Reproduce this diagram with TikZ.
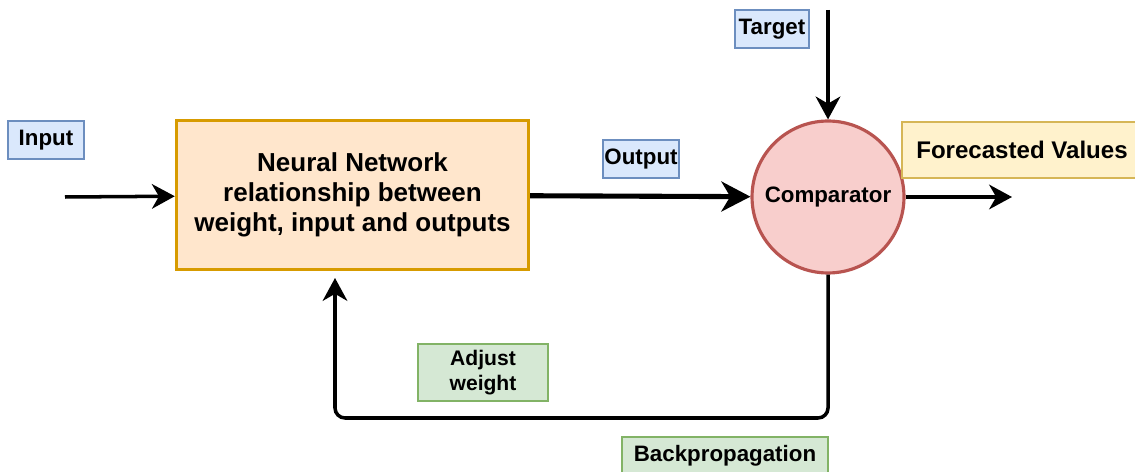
\documentclass[tikz,border=0pt]{standalone}
\usepackage{fontspec}
\setmainfont{Liberation Sans}
\usetikzlibrary{arrows.meta}
\definecolor{blueF}{HTML}{DAE8FC}\definecolor{blueD}{HTML}{6C8EBF}
\definecolor{orangeF}{HTML}{FFE6CC}\definecolor{orangeD}{HTML}{D79B00}
\definecolor{redF}{HTML}{F8CECC}\definecolor{redD}{HTML}{B85450}
\definecolor{yellowF}{HTML}{FFF2CC}\definecolor{yellowD}{HTML}{D6B656}
\definecolor{greenF}{HTML}{D5E8D4}\definecolor{greenD}{HTML}{82B366}
\tikzset{
  tag/.style={draw=blueD, fill=blueF, line width=1pt, inner sep=0pt,
    minimum height=0.76cm, font=\bfseries\fontsize{12.7pt}{15pt}\selectfont},
  arr/.style={line width=2pt, -{Stealth[length=13pt, width=14pt, inset=4pt]}}
}
\begin{document}
\begin{tikzpicture}[x=0.02cm, y=-0.02cm]
  \useasboundingbox (0,0) rectangle (1135,472);
  \node[draw=orangeD, fill=orangeF, line width=2pt, minimum width=7.04cm, minimum height=2.98cm,
    align=center, font=\bfseries\fontsize{14.8pt}{17pt}\selectfont] (nn) at (352.5,195)
    {Neural Network\\relationship between\\weight, input and outputs};
  \node[circle, draw=redD, fill=redF, line width=1.8pt, minimum size=3.04cm, inner sep=0pt,
    font=\bfseries\fontsize{12.7pt}{15pt}\selectfont] (comp) at (828,197) {Comparator};
  \node[tag, minimum width=1.52cm] (input) at (46,140) {Input};
  \node[tag, minimum width=1.52cm] (output) at (641,159) {Output};
  \node[tag, minimum width=1.48cm] (target) at (772,29) {Target};
  \node[tag, draw=yellowD, fill=yellowF, minimum width=4.8cm, minimum height=1.12cm,
    font=\bfseries\fontsize{13.7pt}{16pt}\selectfont] (fcast) at (1022,150) {Forecasted Values};
  \node[tag, draw=greenD, fill=greenF, minimum width=2.6cm, minimum height=1.14cm, align=center,
    font=\bfseries\fontsize{12pt}{14.2pt}\selectfont] (adjust) at (483,372.5) {Adjust\\weight};
  \node[tag, draw=greenD, fill=greenF, minimum width=4.12cm] (backprop) at (725,456) {Backpropagation};
  \coordinate (in) at (65,197);
  \coordinate (tgt) at (828,10);
  \coordinate (out) at (1012,197);
  \coordinate (fbl) at (335,418);
  \coordinate (fbt) at (335,278);
  \begin{scope}[arr]
    \draw (in) to (nn);
    \draw[line width=2.9pt, -{Stealth[length=16.5pt, width=17pt, inset=5pt]}] (nn) to (comp);
    \draw (tgt) to (comp.north);
    \draw (comp.east) to (out);
    \draw[rounded corners=0.2cm] (comp.south) |- (fbl) -- (fbt);
  \end{scope}
\end{tikzpicture}
\end{document}
